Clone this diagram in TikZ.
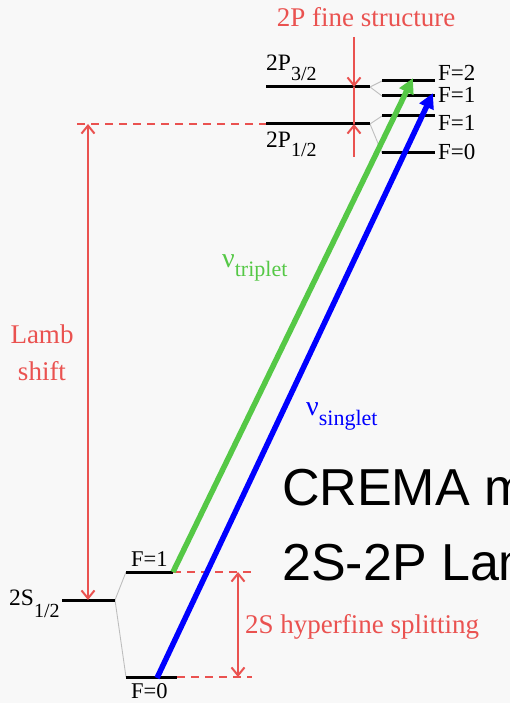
\documentclass[tikz,border=0pt]{standalone}
\usepackage{fontspec}
\setmainfont{Liberation Serif}
\newfontfamily\crema{Liberation Sans}
\usetikzlibrary{arrows.meta}
\definecolor{bgc}{RGB}{248,248,248}
\definecolor{lred}{RGB}{234,82,80}
\definecolor{lgreen}{RGB}{85,200,70}
\definecolor{lblue}{RGB}{0,0,255}
\definecolor{lgray}{RGB}{190,190,190}
\newcommand{\fs}[1]{\fontsize{#1}{#1}\selectfont}
\newcommand{\lvl}[3]{#1\raisebox{-#3pt}{\fs{20}#2}}
\tikzset{
  level/.style={black, line width=3pt},
  split/.style={lgray, line width=0.9pt},
  reddash/.style={lred, line width=2.5pt, dash pattern=on 8pt off 6pt},
  redarrow/.style={lred, line width=2.6pt},
  redtip/.style={-{Straight Barb[length=8pt,width=13pt,line width=2pt]}},
  redtips/.style={{Straight Barb[length=8pt,width=13pt,line width=2pt]}-{Straight Barb[length=8pt,width=13pt,line width=2pt]}},
  transition/.style={line width=5.5pt, -{Triangle[length=15pt,width=15pt]}, shorten >=-2pt},
  lbl/.style={inner sep=0pt, anchor=base west, font=\fs{23.5}},
  flbl/.style={inner sep=0pt, anchor=base west, font=\fs{23}},
  redlbl/.style={inner sep=0pt, text=lred, font=\fs{27}},
}
\begin{document}
\begin{tikzpicture}[x=1pt,y=-1pt]
\useasboundingbox (0,0) rectangle (510,703);
\fill[bgc] (0,0) rectangle (510,703);
% coordinates of levels
\coordinate (p32l) at (266,87);  \coordinate (p32r) at (370,87);
\coordinate (p12l) at (266,124); \coordinate (p12r) at (370,124);
\coordinate (h2l) at (382,81);   \coordinate (h2r) at (435,81);
\coordinate (h1al) at (382,96);  \coordinate (h1ar) at (435,96);
\coordinate (h1bl) at (382,116); \coordinate (h1br) at (435,116);
\coordinate (h0l) at (382,153);  \coordinate (h0r) at (435,153);
\coordinate (s12l) at (62,600);  \coordinate (s12r) at (115,600);
\coordinate (sf1l) at (126,572); \coordinate (sf1r) at (173,572);
\coordinate (sf0l) at (126,677); \coordinate (sf0r) at (177,677);
% red guide coordinates
\coordinate (lambL) at (77,124);
\coordinate (lambTop) at (88,124);
\coordinate (lambBot) at (88,600);
\coordinate (hfs1) at (252,572);
\coordinate (hfs0) at (252,677);
\coordinate (hfsTop) at (238,572);
\coordinate (hfsBot) at (238,677);
\coordinate (fsTop) at (354,37);
\coordinate (fs32) at (354,87);
\coordinate (fs12) at (354,124);
\coordinate (fsBot) at (354,157);
\coordinate (tripTip) at (412,80);
\coordinate (singStart) at (157,678);
\coordinate (singTip) at (432,95);
% splitting lines
\draw[split] (p32r) -- (h2l);
\draw[split] (p32r) -- (h1al);
\draw[split] (p12r) -- (h1bl);
\draw[split] (p12r) -- (h0l);
\draw[split] (s12r) -- (sf1l);
\draw[split] (s12r) -- (sf0l);
% red dashed guides
\draw[reddash] (lambL) -- (p12l);
\draw[reddash] (sf1r) -- (hfs1);
\draw[reddash] (sf0r) -- (hfs0);
% levels
\draw[level] (p32l) -- (p32r);
\draw[level] (p12l) -- (p12r);
\draw[level] (h2l) -- (h2r);
\draw[level] (h1al) -- (h1ar);
\draw[level] (h1bl) -- (h1br);
\draw[level] (h0l) -- (h0r);
\draw[level] (s12l) -- (s12r);
\draw[level] (sf1l) -- (sf1r);
\draw[level] (sf0l) -- (sf0r);
% red arrows
\draw[redarrow, redtips] (lambTop) -- (lambBot);
\draw[redarrow, redtips] (hfsTop) -- (hfsBot);
\draw[redarrow] (fs32) -- (fs12);
\draw[redarrow, redtip] (fsTop) -- (fs32);
\draw[redarrow, redtip] (fsBot) -- (fs12);
% transitions
\draw[transition, lgreen] (sf1r) -- (tripTip);
\draw[transition, lblue] (singStart) -- (singTip);
% labels
\node[lbl] (l32) at (266,71) {\lvl{2P}{3/2}{10}};
\node[lbl] (l12) at (266,148) {\lvl{2P}{1/2}{9}};
\node[lbl] (l2s) at (9,605) {\lvl{2S}{1/2}{12}};
\node[flbl] (t2) at (438,81) {F=2};
\node[flbl] (t1a) at (438,103) {F=1};
\node[flbl] (t1b) at (438,131) {F=1};
\node[flbl] (t0) at (438,160) {F=0};
\node[lbl, font=\fs{22.5}] (b1) at (131,566) {F=1};
\node[lbl, font=\fs{22.5}] (b0) at (131,698) {F=0};
\node[redlbl, anchor=base] (fst) at (366,27) {2P fine structure};
\node[redlbl, anchor=base west] (hfst) at (245,633) {2S hyperfine splitting};
\node[redlbl, anchor=base] (lamb1) at (42,343) {Lamb};
\node[redlbl, anchor=base] (lamb2) at (42,380) {shift};
\node[inner sep=0pt, anchor=base west, text=lgreen, font=\fs{28}] (nut) at (222,267) {ν\raisebox{-9pt}{\fs{22}triplet}};
\node[inner sep=0pt, anchor=base west, text=lblue, font=\fs{28}] (nus) at (306,415) {ν\raisebox{-10pt}{\fs{22}singlet}};
\begin{scope}
\clip (0,0) rectangle (510,703);
\node[inner sep=0pt, anchor=base west, font=\crema\fs{52}] (cr1) at (282,505) {CREMA m};
\node[inner sep=0pt, anchor=base west, font=\crema\fs{52}] (cr2) at (282,580) {2S-2P Lam};
\end{scope}
\end{tikzpicture}
\end{document}
